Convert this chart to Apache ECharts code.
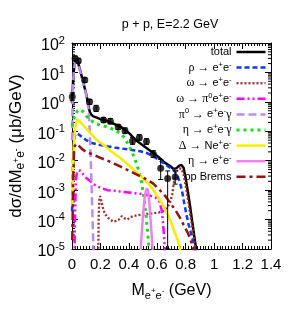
<!DOCTYPE html>
<html><head><meta charset="utf-8">
<script src="https://cdn.jsdelivr.net/npm/echarts@6/dist/echarts.min.js"></script>
<style>html,body{margin:0;padding:0;background:#fff}#c{width:300px;height:315px}</style>
</head><body><div id="c"></div>
<script>
// ---------- data ----------
const titleText = 'p + p, E=2.2 GeV';
const xMin = 0, xMax = 1.4, xStep = 0.2;
const yMin = 1e-5, yMax = 100;
const yMinorTicks = [];
[-5,-4,-3,-2,-1,0,1].forEach(function(k){ [2,3,4,5,6,7,8,9].forEach(function(m){ yMinorTicks.push(m*Math.pow(10,k)); }); });

const totalCurve = [[0.000,0.9],[0.004,2.0],[0.008,5],[0.012,10],[0.017,18],[0.022,24],[0.03,26],[0.038,24],[0.046,19],[0.055,13],[0.065,8.5],[0.075,5.5],[0.085,3.6],[0.095,2.3],[0.105,1.4],[0.113,0.85],[0.12,0.58],[0.127,0.44],[0.135,0.37],[0.15,0.32],[0.175,0.29],[0.2,0.26],[0.25,0.22],[0.3,0.175],[0.35,0.135],[0.4,0.088],[0.43,0.062],[0.46,0.046],[0.5,0.033],[0.56,0.02],[0.6,0.0145],[0.63,0.0108],[0.65,0.0088],[0.69,0.0066],[0.715,0.0052],[0.735,0.0056],[0.755,0.0068],[0.77,0.0072],[0.785,0.0058],[0.8,0.0025],[0.815,0.0009],[0.83,0.0003],[0.845,9e-5],[0.86,2.8e-5],[0.875,9e-6]];
const rhoCurve = [[0.001,1.9e-4],[0.004,0.002],[0.008,0.012],[0.013,0.035],[0.02,0.07],[0.03,0.085],[0.045,0.08],[0.07,0.065],[0.1,0.05],[0.14,0.04],[0.2,0.034],[0.3,0.028],[0.4,0.024],[0.48,0.021],[0.53,0.018],[0.57,0.014],[0.61,0.011],[0.65,0.0078],[0.69,0.0058],[0.72,0.0045],[0.74,0.0032],[0.76,0.0018],[0.775,0.0009],[0.79,3.5e-4],[0.805,1.5e-4],[0.82,7e-5],[0.84,3e-5],[0.855,1.6e-5],[0.868,8e-6]];
const omegaCurve = [[0.184,4e-6],[0.188,1.5e-4],[0.193,5e-4],[0.198,6.3e-4],[0.205,4.5e-4],[0.215,2.8e-4],[0.23,1.6e-4],[0.25,1.2e-4],[0.27,1e-4],[0.29,8.5e-5],[0.31,9e-5],[0.33,1e-4],[0.35,1.3e-4],[0.37,1.1e-4],[0.39,1e-4],[0.41,1.2e-4],[0.43,1.3e-4],[0.46,1.4e-4],[0.5,1.5e-4],[0.55,1.6e-4],[0.6,1.7e-4],[0.64,1.9e-4],[0.67,2.6e-4],[0.69,3.8e-4],[0.705,7e-4],[0.715,1.5e-3],[0.725,3e-3],[0.74,4.5e-3],[0.755,5.5e-3],[0.77,5.3e-3],[0.785,3.4e-3],[0.8,1.4e-3],[0.815,5e-4],[0.83,1.7e-4],[0.845,6e-5],[0.86,2e-5],[0.872,7e-6]];
const omegaDalitzCurve = [[0.017,3e-6],[0.02,5e-5],[0.024,5e-4],[0.028,0.0025],[0.035,0.004],[0.045,0.0047],[0.06,0.0046],[0.08,0.0034],[0.1,0.0026],[0.13,0.002],[0.16,0.0015],[0.2,0.0012],[0.25,0.001],[0.3,9.5e-4],[0.35,8.8e-4],[0.4,8.3e-4],[0.45,7.8e-4],[0.5,7.2e-4],[0.55,6.5e-4],[0.59,5.5e-4],[0.615,4e-4],[0.63,2.2e-4],[0.64,8e-5],[0.648,2.5e-5],[0.656,5e-6]];
const pi0Curve = [[0.001,0.05],[0.004,1.0],[0.008,4],[0.012,9],[0.017,16],[0.022,21],[0.03,24],[0.038,22],[0.046,17.5],[0.055,12],[0.065,8],[0.075,5.2],[0.085,3.4],[0.095,2.2],[0.105,1.3],[0.113,0.75],[0.118,0.45],[0.123,0.15],[0.128,0.04],[0.133,0.008],[0.138,1.3e-3],[0.143,2e-4],[0.148,3e-5],[0.153,4e-6]];
const etaDalitzCurve = [[0.001,0.15],[0.01,0.25],[0.02,0.35],[0.04,0.5],[0.06,0.55],[0.08,0.45],[0.1,0.33],[0.13,0.24],[0.16,0.19],[0.2,0.16],[0.25,0.14],[0.3,0.11],[0.34,0.085],[0.37,0.06],[0.39,0.04],[0.41,0.026],[0.43,0.016],[0.45,0.009],[0.47,0.0045],[0.49,0.0018],[0.505,6e-4],[0.52,1.6e-4],[0.53,5e-5],[0.54,1.3e-5],[0.548,3e-6]];
const deltaCurve = [[0.002,3e-4],[0.006,0.003],[0.012,0.03],[0.02,0.1],[0.03,0.2],[0.04,0.25],[0.06,0.2],[0.1,0.125],[0.166,0.055],[0.22,0.035],[0.3,0.017],[0.335,0.013],[0.4,0.007],[0.45,0.0042],[0.5,0.0025],[0.54,0.0016],[0.58,9e-4],[0.634,3.5e-4],[0.67,1.6e-4],[0.7,7.5e-5],[0.73,3e-5],[0.75,1.6e-5],[0.77,6e-6]];
const etaCurve = [[0.478,4e-6],[0.49,3e-5],[0.5,1.5e-4],[0.51,5e-4],[0.52,9.5e-4],[0.528,1.15e-3],[0.535,9.5e-4],[0.545,3.5e-4],[0.555,7e-5],[0.565,1.4e-5],[0.575,3e-6]];
const bremsCurve = [[0.002,2e-5],[0.006,3e-4],[0.01,0.004],[0.014,0.018],[0.02,0.032],[0.03,0.038],[0.04,0.038],[0.055,0.03],[0.075,0.024],[0.1,0.02],[0.15,0.016],[0.2,0.0125],[0.25,0.01],[0.3,0.0078],[0.35,0.006],[0.4,0.0046],[0.45,0.0035],[0.5,0.0027],[0.57,0.0017],[0.61,0.0011],[0.66,6e-4],[0.7,3.2e-4],[0.73,2e-4],[0.76,1.15e-4],[0.79,6e-5],[0.815,3.5e-5],[0.835,2e-5],[0.853,1e-5],[0.86,6e-6]];

const dataX  = [0.002,0.022,0.045,0.09,0.124,0.17,0.222,0.27,0.325,0.373,0.426,0.474,0.524,0.572,0.624,0.673,0.726];
const dataY  = [1.5,30,25,5.5,1.0,0.6,0.24,0.22,0.14,0.105,0.047,0.062,0.045,0.017,0.0055,0.0025,0.0028];
const errLo  = [1.1,25,21,4.6,0.82,0.47,0.2,0.18,0.115,0.085,0.036,0.05,0.036,0.013,0.0023,0.000001,0.0016];
const errHi  = [2.0,36,30,6.6,1.2,0.76,0.29,0.27,0.17,0.13,0.062,0.077,0.056,0.022,0.011,0.0045,0.0045];

const seriesNames = ['total','ρ → e+e-','ω → e+e-','ω → π0e+e-','π0 → e+e-γ','η → e+e-γ','Δ → Ne+e-','η → e+e-','pp Brems'];
const legendRich = {
  'total': 'total',
  'ρ → e+e-': '{g|ρ → }e{s|+}e{s|-}',
  'ω → e+e-': '{g|ω → }e{s|+}e{s|-}',
  'ω → π0e+e-': '{g|ω → π}{s|0}e{s|+}e{s|-}',
  'π0 → e+e-γ': '{g|π}{s|0}{g| → }e{s|+}e{s|-}{g|γ}',
  'η → e+e-γ': '{g|η → }e{s|+}e{s|-}{g|γ}',
  'Δ → Ne+e-': '{g|Δ → }Ne{s|+}e{s|-}',
  'η → e+e-': '{g|η → }e{s|+}e{s|-}',
  'pp Brems': 'pp Brems'
};
const curves = [totalCurve, rhoCurve, omegaCurve, omegaDalitzCurve, pi0Curve, etaDalitzCurve, deltaCurve, etaCurve, bremsCurve];
const colors = ['#000000','#1038ff','#a52a2a','#ff00ff','#bc8cf6','#18e018','#f4ee00','#ee82ee','#9a1010'];
const dashes = ['solid',[5,3],[2,2],[8,3,2,3,2,3],[8,4],[3,4],'solid','solid',[9,4,3,4]];
const widths = [2.5,2.5,2.3,2.5,2.5,3,2.5,2.5,2.5];

// ---------- chart ----------
const font = 'Liberation Sans, Arial, Helvetica, sans-serif';
const chart = echarts.init(document.getElementById('c'), null, {renderer:'canvas'});

const lineSeries = curves.map(function(c, i){
  return {
    type:'line', name: seriesNames[i], data: c, symbol:'none', showSymbol:false,
    lineStyle:{color: colors[i], width: widths[i], type: dashes[i], cap:'butt'},
    itemStyle:{color: colors[i]}, z: 2 + i, animation:false, silent:true
  };
});

const errData = dataX.map(function(x,i){ return [x, errLo[i], errHi[i]]; });
const ptData = dataX.map(function(x,i){ return [x, dataY[i]]; });
const minorData = yMinorTicks.map(function(v){ return [xMin, v]; });

const option = {
  animation:false,
  textStyle:{fontFamily: font},
  graphic:[{type:'text', x: 170, y: 18, style:{text: titleText, font: '12.5px ' + font, fill:'#000', textAlign:'center'}}],
  grid:{left:68, right:29, top:43, bottom:66},
  legend:{
    show:true, orient:'vertical', right:33, top:45, align:'right', padding:0,
    itemWidth:29, itemHeight:12, itemGap:1.6, selectedMode:false,
    textStyle:{fontFamily: font, fontSize:11, color:'#000', lineHeight:14,
      rich:{ g:{fontFamily:'Liberation Serif, Times New Roman, serif', fontSize:12, color:'#000'},
             s:{fontSize:7.5, verticalAlign:'top', lineHeight:8, color:'#000'} }},
    formatter: function(n){ return legendRich[n]; },
    data: seriesNames.map(function(n,i){ return {name:n,
      lineStyle:{color:colors[i], width:widths[i], type:dashes[i]},
      itemStyle:{color:'rgba(0,0,0,0)', borderWidth:0, borderColor:'rgba(0,0,0,0)'}}; })
  },
  xAxis:[{
    type:'value', min:xMin, max:xMax, interval:xStep, position:'bottom',
    axisLine:{onZero:false, lineStyle:{color:'#000', width:1}},
    axisTick:{inside:true, length:6, lineStyle:{color:'#000'}},
    minorTick:{show:true, splitNumber:10, length:3, lineStyle:{color:'#000'}},
    splitLine:{show:false},
    axisLabel:{margin:8, fontSize:15, color:'#000', fontFamily:font},
    name:'{n|M}{sb|e}{ss|+}{sb|e}{ss|-}{n| (GeV)}', nameLocation:'middle', nameGap:32,
    nameTextStyle:{fontFamily:font, color:'#000', rich:{
      n:{fontSize:16, lineHeight:20, color:'#000'},
      sb:{fontSize:11, lineHeight:11, verticalAlign:'bottom', color:'#000'},
      ss:{fontSize:8, lineHeight:10, verticalAlign:'middle', color:'#000'} }}
  },{
    type:'value', min:xMin, max:xMax, interval:xStep, position:'top',
    axisLine:{onZero:false, lineStyle:{color:'#000', width:1}},
    axisTick:{inside:true, length:6, lineStyle:{color:'#000'}},
    minorTick:{show:true, splitNumber:10, length:3, lineStyle:{color:'#000'}},
    splitLine:{show:false}, axisLabel:{show:false}
  }],
  yAxis:[{
    type:'log', logBase:10, min:yMin, max:yMax, splitNumber:7, position:'left',
    axisLine:{onZero:false, lineStyle:{color:'#000', width:1}},
    axisTick:{inside:true, length:6, lineStyle:{color:'#000'}},
    splitLine:{show:false},
    axisLabel:{margin:7, color:'#000', padding:[6,0,0,0],
      formatter:function(v){ return '{b|10}{s|' + Math.round(Math.log10(v)) + '}'; },
      rich:{ b:{fontSize:16, lineHeight:22, fontFamily:font, color:'#000'},
             s:{fontSize:11, lineHeight:11, verticalAlign:'top', fontFamily:font, color:'#000'} }},
    name:'{n|dσ/dM}{sb|e}{ss|+}{sb|e}{ss|-}{n| (μb/GeV)}', nameLocation:'middle', nameRotate:90, nameGap:45,
    nameTextStyle:{fontFamily:font, color:'#000', rich:{
      n:{fontSize:17, lineHeight:20, color:'#000'},
      sb:{fontSize:12, lineHeight:12, verticalAlign:'bottom', color:'#000'},
      ss:{fontSize:8.5, lineHeight:10, verticalAlign:'middle', color:'#000'} }}
  },{
    type:'log', logBase:10, min:yMin, max:yMax, splitNumber:7, position:'right',
    axisLine:{onZero:false, lineStyle:{color:'#000', width:1}},
    axisTick:{inside:true, length:6, lineStyle:{color:'#000'}},
    splitLine:{show:false}, axisLabel:{show:false}
  }],
  series: lineSeries.concat([
    {type:'custom', name:'minor', data:minorData, silent:true, z:1, encode:{x:0, y:1},
     renderItem:function(params, api){
       const v = api.value(1);
       const pL = api.coord([xMin, v]), pR = api.coord([xMax, v]);
       return {type:'group', children:[
         {type:'line', shape:{x1:pL[0], y1:pL[1], x2:pL[0]+3, y2:pL[1]}, style:{stroke:'#000', lineWidth:1}},
         {type:'line', shape:{x1:pR[0]-3, y1:pR[1], x2:pR[0], y2:pR[1]}, style:{stroke:'#000', lineWidth:1}}
       ]};
     }},
    {type:'custom', name:'err', data:errData, silent:true, z:20, encode:{x:0, y:[1,2]},
     renderItem:function(params, api){
       const x = api.value(0);
       const lo = Math.max(api.value(1), yMin), hi = Math.min(api.value(2), yMax);
       const p1 = api.coord([x, lo]), p2 = api.coord([x, hi]);
       const c = 2.5;
       return {type:'group', children:[
         {type:'line', shape:{x1:p1[0], y1:p1[1], x2:p2[0], y2:p2[1]}, style:{stroke:'#000', lineWidth:1}},
         {type:'line', shape:{x1:p1[0]-c, y1:p1[1], x2:p1[0]+c, y2:p1[1]}, style:{stroke:'#000', lineWidth:1}},
         {type:'line', shape:{x1:p2[0]-c, y1:p2[1], x2:p2[0]+c, y2:p2[1]}, style:{stroke:'#000', lineWidth:1}}
       ]};
     }},
    {type:'scatter', name:'data', data:ptData, symbol:'circle', symbolSize:7, itemStyle:{color:'#000'}, z:21, silent:true}
  ])
};
chart.setOption(option);
</script></body></html>
